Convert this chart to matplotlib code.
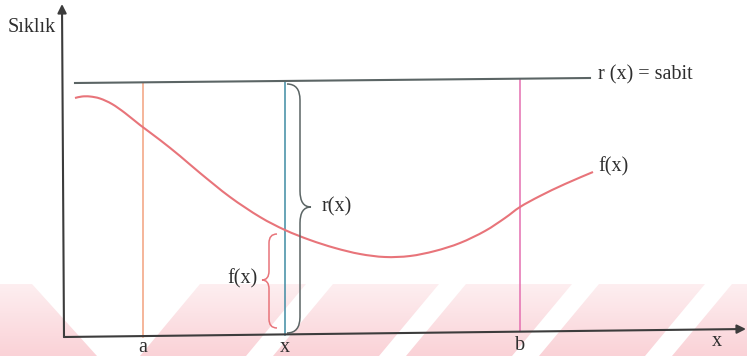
import numpy as np
import matplotlib.pyplot as plt
from matplotlib.path import Path
from matplotlib.patches import PathPatch, Polygon

# koordinatlar: resim pikseli (y asagi dogru)
eksen_orijin = (64, 337)
y_ekseni_ucu = (62, 4)
x_ekseni_ucu = (746, 329)

sabit_x = [75, 590]
sabit_y = [83, 78]

# dikey cizgiler: a, x, b
dikey_x = [143, 285, 520]
dikey_ust = [83, 81, 79]
dikey_alt = [337, 335, 331]
dikey_renk = ['#f2a27e', '#3f8ba3', '#e46fb0']
dikey_etiket = ['a', 'x', 'b']
etiket_y = [347, 347, 345]

# f(x) egrisi
fx_x = [75, 82, 90, 100, 112, 125, 140, 160, 180, 200, 230, 260, 285, 310,
        335, 360, 385, 410, 435, 460, 485, 505, 520, 540, 565, 593]
fx_y = [98, 96.5, 96.5, 98.5, 104, 113, 125, 140, 156, 173, 197, 217, 230,
        240, 248, 254, 257, 256, 251, 243, 231, 218, 207, 196, 184, 172]

koyu = '#3c3c3c'
gri = '#5b6565'
kirmizi = '#e8747a'
yazi = dict(family=['Liberation Serif', 'DejaVu Serif'], fontsize=14.5,
            color='#2e2e2e')


def kume_parantezi(ax, x_kenar, x_orta, x_uc, y_ust, y_alt, y_uc, r, renk):
    verts = [(x_kenar, y_ust), (x_orta, y_ust), (x_orta, y_ust + r),
             (x_orta, y_uc - r), (x_orta, y_uc), (x_uc, y_uc),
             (x_orta, y_uc), (x_orta, y_uc + r),
             (x_orta, y_alt - r), (x_orta, y_alt), (x_kenar, y_alt)]
    codes = [Path.MOVETO, Path.CURVE3, Path.CURVE3,
             Path.LINETO, Path.CURVE3, Path.CURVE3,
             Path.CURVE3, Path.CURVE3,
             Path.LINETO, Path.CURVE3, Path.CURVE3]
    ax.add_patch(PathPatch(Path(verts, codes), fill=False, ec=renk, lw=1.1,
                           zorder=3))


def yumusak_egri(xs, ys):
    # Catmull-Rom -> Bezier, noktalardan gecen duzgun bir cizgi
    p = np.column_stack([xs, ys]).astype(float)
    p = np.vstack([p[0], p, p[-1]])
    verts = [tuple(p[1])]
    codes = [Path.MOVETO]
    for i in range(1, len(p) - 2):
        c1 = p[i] + (p[i + 1] - p[i - 1]) / 6
        c2 = p[i + 1] - (p[i + 2] - p[i]) / 6
        verts += [tuple(c1), tuple(c2), tuple(p[i + 1])]
        codes += [Path.CURVE4] * 3
    return Path(verts, codes)


fig = plt.figure(figsize=(7.47, 3.56), dpi=100)
ax = fig.add_axes([0, 0, 1, 1])
ax.set_xlim(0, 747)
ax.set_ylim(356, 0)
ax.axis('off')

# alt kisimdaki filigran seritleri
wm_ust, wm_alt = 284, 356
t = np.linspace(0, 1, 80)[:, None, None]
beyaz = np.array([1.0, 1.0, 1.0])
kir = np.array([0.93, 0.35, 0.42])
oran = 0.1 + 0.17 * t
renk = beyaz * (1 - oran) + kir * oran
seritler = [[(-10, wm_ust), (32, wm_ust), (97, wm_alt), (-10, wm_alt)]]
for bas in range(200, 800, 133):
    seritler.append([(bas, wm_ust), (bas + 106, wm_ust),
                     (bas + 46, wm_alt), (bas - 60, wm_alt)])
for s in seritler:
    p = Polygon(s, closed=True, fc='none', ec='none')
    ax.add_patch(p)
    im = ax.imshow(renk, extent=[0, 747, wm_alt, wm_ust], aspect='auto',
                   zorder=0, interpolation='bilinear')
    im.set_clip_path(p)

# eksenler
ax.annotate('', xy=y_ekseni_ucu, xytext=eksen_orijin,
            arrowprops=dict(arrowstyle='-|>', color=koyu, lw=1.5,
                            mutation_scale=13, shrinkA=0, shrinkB=0), zorder=4)
ax.annotate('', xy=x_ekseni_ucu, xytext=eksen_orijin,
            arrowprops=dict(arrowstyle='-|>', color=koyu, lw=1.5,
                            mutation_scale=13, shrinkA=0, shrinkB=0), zorder=4)

# r(x) = sabit
ax.plot(sabit_x, sabit_y, color=gri, lw=1.5, zorder=3)

for x, u, a, c in zip(dikey_x, dikey_ust, dikey_alt, dikey_renk):
    ax.plot([x, x], [u, a], color=c, lw=1.1, zorder=2)

ax.add_patch(PathPatch(yumusak_egri(fx_x, fx_y), fill=False, ec=kirmizi,
                       lw=1.5, zorder=2))

kume_parantezi(ax, 287, 300, 311, 84, 333, 207, 16, gri)
kume_parantezi(ax, 277, 269, 262, 234, 328, 280, 9, kirmizi)

ax.text(8, 28, 'Sıklık', ha='left', va='center', **yazi)
ax.text(598, 75, 'r (x) = sabit', ha='left', va='center', **yazi)
ax.text(598, 167, 'f(x)', ha='left', va='center', **yazi)
ax.text(322, 207, 'r(x)', ha='left', va='center', **yazi)
ax.text(258, 279, 'f(x)', ha='right', va='center', **yazi)
for x, yy, e in zip(dikey_x, etiket_y, dikey_etiket):
    ax.text(x, yy, e, ha='center', va='center', **yazi)
ax.text(717, 341, 'x', ha='center', va='center', **yazi)

fig.savefig('out.png', dpi=100)
